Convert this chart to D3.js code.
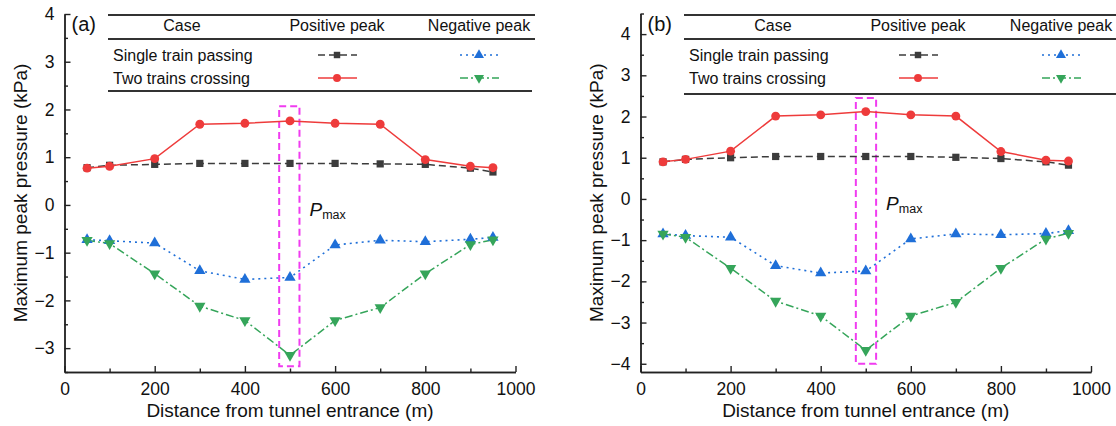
<!DOCTYPE html>
<html>
  <head>
    <meta charset='UTF-8'/>
    <script src="https://cdn.jsdelivr.net/npm/d3@7"></script>
    <style>
      body { margin: 0; background: #fff; }
      svg { font-family: "Liberation Sans", Arial, sans-serif; }
      .tick text { font-size: 17.5px; fill: #111; }
      .lbl { font-size: 19px; fill: #111; }
      .leg { font-size: 16px; fill: #111; }
    </style>
  </head>
  <body>
    <svg id="fig" width="1116" height="426"></svg>
    <script>
      // distances along the tunnel (m)
      const dist = [50, 100, 200, 300, 400, 500, 600, 700, 800, 900, 950]

      // panel (a)
      const singlePosA = [0.78, 0.83, 0.85, 0.87, 0.87, 0.87, 0.87, 0.86, 0.85, 0.77, 0.69]
      const crossPosA  = [0.77, 0.81, 0.97, 1.69, 1.71, 1.76, 1.71, 1.69, 0.95, 0.81, 0.78]
      const singleNegA = [-0.73, -0.75, -0.80, -1.38, -1.56, -1.52, -0.84, -0.74, -0.77, -0.72, -0.68]
      const crossNegA  = [-0.74, -0.81, -1.44, -2.12, -2.42, -3.15, -2.42, -2.15, -1.44, -0.83, -0.73]

      // panel (b)
      const singlePosB = [0.90, 0.96, 1.00, 1.03, 1.03, 1.03, 1.03, 1.01, 0.98, 0.90, 0.82]
      const crossPosB  = [0.90, 0.96, 1.16, 2.01, 2.04, 2.12, 2.04, 2.01, 1.15, 0.94, 0.92]
      const singleNegB = [-0.85, -0.89, -0.93, -1.62, -1.80, -1.75, -0.97, -0.85, -0.87, -0.84, -0.77]
      const crossNegB  = [-0.85, -0.93, -1.68, -2.48, -2.84, -3.67, -2.84, -2.51, -1.68, -0.97, -0.83]

      // P_max box: [x0, x1, yTop, yBottom] in data units
      const boxA = [476, 521, 2.07, -3.38]
      const boxB = [478, 523, 2.45, -4.0]

      const xTicks = [0, 200, 400, 600, 800, 1000]
      const yTicksA = [-3, -2, -1, 0, 1, 2, 3, 4]
      const yTicksB = [-4, -3, -2, -1, 0, 1, 2, 3, 4]

      const legendRows = ["Single train passing", "Two trains crossing"]
      const legendHead = ["Case", "Positive peak", "Negative peak"]

      const styles = {
        singlePos: {color: "#3c3c3c", dash: "7,4", sym: d3.symbolSquare, size: 52, rot: 0, w: 1.5},
        crossPos:  {color: "#ee3b3b", dash: null, sym: d3.symbolCircle, size: 62, rot: 0, w: 1.5},
        singleNeg: {color: "#1f6fd8", dash: "2,4", sym: d3.symbolTriangle, size: 55, rot: 0, w: 1.6},
        crossNeg:  {color: "#35a55a", dash: "8,3,2,3", sym: d3.symbolTriangle, size: 55, rot: 180, w: 1.5}
      }

      const svg = d3.select("#fig")

      function panel(o) {
        const g = svg.append("g")
        const x = d3.scaleLinear().domain([0, 1000]).range(o.xr)
        const y = d3.scaleLinear().domain(o.yd).range(o.yr)

        // axes
        const xa = d3.axisBottom(x).tickValues(xTicks).tickFormat(d3.format("d"))
          .tickSizeInner(-6).tickSizeOuter(0).tickPadding(11)
        const xm = d3.axisBottom(x).tickValues(d3.range(100, 1000, 200)).tickSize(-3.5).tickFormat("").tickSizeOuter(0)
        const ya = d3.axisLeft(y).tickValues(o.yTicks).tickSizeInner(-6).tickSizeOuter(0).tickPadding(10)
        const ym = d3.axisLeft(y).tickValues(o.yMinor).tickSize(-3.5).tickFormat("").tickSizeOuter(0)

        g.append("g").attr("transform", `translate(0,${o.yr[0]})`).call(xa)
        g.append("g").attr("transform", `translate(0,${o.yr[0]})`).call(xm)
        g.append("g").attr("transform", `translate(${o.xr[0]},0)`).call(ya)
        g.append("g").attr("transform", `translate(${o.xr[0]},0)`).call(ym)
        g.selectAll(".domain, .tick line").attr("stroke", "#222").attr("stroke-width", 1.4)
        g.selectAll(".tick text").attr("font-family", null).attr("font-size", null)

        // axis titles
        g.append("text").attr("class", "lbl")
          .attr("x", (o.xr[0] + o.xr[1]) / 2).attr("y", 417)
          .attr("text-anchor", "middle").text("Distance from tunnel entrance (m)")
        g.append("text").attr("class", "lbl")
          .attr("transform", `translate(${o.xr[0] - 38},${(o.yr[0] + o.yr[1]) / 2}) rotate(-90)`)
          .attr("text-anchor", "middle").text("Maximum peak pressure (kPa)")

        // P_max box
        g.append("rect")
          .attr("x", x(o.box[0])).attr("y", y(o.box[2]))
          .attr("width", x(o.box[1]) - x(o.box[0])).attr("height", y(o.box[3]) - y(o.box[2]))
          .attr("fill", "none").attr("stroke", "#f03cf0").attr("stroke-width", 2)
          .attr("stroke-dasharray", "7,4")
        const pt = g.append("text").attr("x", x(o.box[1]) + 10).attr("y", y(0) + 11)
          .style("font-size", "19px").attr("fill", "#111")
        pt.append("tspan").attr("font-style", "italic").text("P")
        pt.append("tspan").style("font-size", "12.5px").attr("dy", 3).text("max")

        // series
        const series = [["singlePos", o.singlePos], ["crossPos", o.crossPos],
                        ["singleNeg", o.singleNeg], ["crossNeg", o.crossNeg]]
        const line = d3.line().x((d, i) => x(dist[i])).y(d => y(d))
        series.forEach(([k, vals]) => {
          const s = styles[k]
          g.append("path").datum(vals)
            .attr("d", line).attr("fill", "none")
            .attr("stroke", s.color).attr("stroke-width", s.w)
            .attr("stroke-dasharray", s.dash)
        })
        series.forEach(([k, vals]) => {
          const s = styles[k]
          g.append("g").selectAll("path").data(vals).join("path")
            .attr("d", d3.symbol(s.sym, s.size))
            .attr("transform", (d, i) => `translate(${x(dist[i])},${y(d)}) rotate(${s.rot})`)
            .attr("fill", s.color)
        })

        // panel tag
        g.append("text").style("font-size", "20px").attr("fill", "#111")
          .attr("x", o.xr[0] + 7).attr("y", 31).text(o.tag)

        // legend table
        const L = o.leg
        const rule = (yy, x2) => g.append("line")
          .attr("x1", L.x0).attr("x2", x2).attr("y1", yy).attr("y2", yy)
          .attr("stroke", "#333").attr("stroke-width", 1.8)
        rule(15, L.x1); rule(39, L.x1); rule(L.bottom, L.x1 - 3)
        const hx = [L.caseX, L.posX, L.negX]
        legendHead.forEach((t, i) => g.append("text").attr("class", "leg")
          .attr("x", hx[i]).attr("y", 31).attr("text-anchor", "middle").text(t))
        const rowY = [55, 78]
        legendRows.forEach((t, i) => g.append("text").attr("class", "leg")
          .attr("x", L.x0 + 5).attr("y", rowY[i] + 6).text(t))
        const legKeys = [["singlePos", L.posX, 0], ["crossPos", L.posX, 1],
                         ["singleNeg", L.negX, 0], ["crossNeg", L.negX, 1]]
        legKeys.forEach(([k, cx, r]) => {
          const s = styles[k]
          g.append("line").attr("x1", cx - 19).attr("x2", cx + 20)
            .attr("y1", rowY[r]).attr("y2", rowY[r])
            .attr("stroke", s.color).attr("stroke-width", s.w).attr("stroke-dasharray", s.dash)
          g.append("path").attr("d", d3.symbol(s.sym, s.size * 0.8))
            .attr("transform", `translate(${cx},${rowY[r]}) rotate(${s.rot})`)
            .attr("fill", s.color)
        })
      }

      panel({
        tag: "(a)", xr: [64.5, 515.5], yd: [-3.5, 4], yr: [372, 14],
        yTicks: yTicksA, yMinor: d3.range(-3.5, 4, 1),
        singlePos: singlePosA, crossPos: crossPosA, singleNeg: singleNegA, crossNeg: crossNegA,
        box: boxA,
        leg: {x0: 108, x1: 535, bottom: 91, caseX: 182, posX: 337, negX: 479}
      })
      panel({
        tag: "(b)", xr: [640.5, 1091], yd: [-4.2, 4.5], yr: [372, 13.5],
        yTicks: yTicksB, yMinor: d3.range(-3.5, 4.6, 1),
        singlePos: singlePosB, crossPos: crossPosB, singleNeg: singleNegB, crossNeg: crossNegB,
        box: boxB,
        leg: {x0: 684, x1: 1119, bottom: 94, caseX: 773, posX: 918, negX: 1061}
      })
    </script>
  </body>
</html>
